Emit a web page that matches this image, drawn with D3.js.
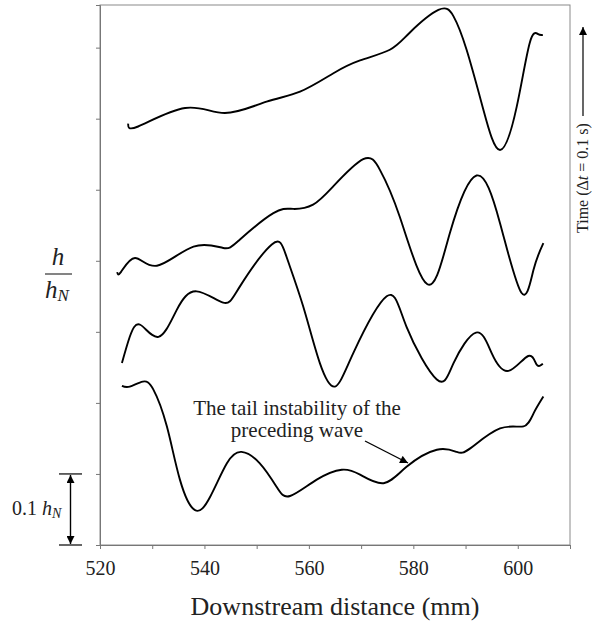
<!DOCTYPE html>
<html lang="en">
<head>
    <meta charset="UTF-8">
    <title>Wave profiles</title>
    <script src="https://cdn.jsdelivr.net/npm/d3@7"></script>
    <style>
        body{
            margin:0;
            background-color:#fff;
        }
        text{
            font-family:"Liberation Serif","Times New Roman","DejaVu Serif",serif;
            fill:#222;
        }
    </style>
</head>
<body>

<script type="text/javascript">

    // downstream distance (mm) and h/h_N (offset curves), oldest at the bottom
    var dist1 = [525.4, 527.3, 536.3, 543.9, 551.9, 558.3, 564.7, 569.8, 575.5, 579.3, 584.8, 587.7, 590.2, 593.4, 596.6, 599.8, 602.3, 603.9, 604.8];
    var h1    = [0.593, 0.589, 0.615, 0.608, 0.624, 0.638, 0.664, 0.682, 0.697, 0.721, 0.753, 0.744, 0.697, 0.613, 0.556, 0.617, 0.707, 0.719, 0.718];

    var dist2 = [523.3, 524.0, 526.7, 530.9, 537.9, 543.6, 546.8, 553.2, 557.0, 560.8, 564.7, 570.4, 573.6, 577.4, 582.7, 587.0, 592.1, 596.6, 600.7, 603.0, 604.9];
    var h2    = [0.384, 0.384, 0.404, 0.393, 0.420, 0.418, 0.430, 0.467, 0.473, 0.479, 0.505, 0.543, 0.528, 0.462, 0.367, 0.439, 0.520, 0.453, 0.355, 0.387, 0.425];

    var dist3 = [524.2, 525.7, 527.7, 531.2, 534.7, 538.5, 543.6, 546.8, 552.9, 555.7, 558.9, 562.1, 565.0, 568.5, 574.9, 578.7, 584.5, 587.7, 592.0, 595.0, 598.2, 602.0, 603.6, 604.8];
    var h3    = [0.256, 0.293, 0.310, 0.293, 0.331, 0.357, 0.341, 0.364, 0.423, 0.406, 0.336, 0.256, 0.223, 0.270, 0.350, 0.307, 0.233, 0.256, 0.299, 0.270, 0.245, 0.266, 0.254, 0.255];

    var dist4 = [524.2, 525.7, 528.2, 530.2, 532.8, 535.3, 538.2, 541.1, 544.3, 547.1, 550.6, 553.8, 556.4, 561.5, 566.3, 569.8, 574.3, 578.7, 584.5, 588.3, 590.9, 596.6, 601.1, 603.0, 604.9];
    var h4    = [0.224, 0.223, 0.230, 0.219, 0.167, 0.092, 0.049, 0.068, 0.115, 0.131, 0.115, 0.082, 0.069, 0.092, 0.106, 0.099, 0.087, 0.110, 0.134, 0.131, 0.136, 0.164, 0.167, 0.185, 0.209];

    var xTicks = [520, 530, 540, 550, 560, 570, 580, 590, 600, 610];
    var xLabels = [520, 540, 560, 580, 600];
    var yTicks = [0, 0.1, 0.2, 0.3, 0.4, 0.5, 0.6, 0.7];

    var w = 592;
    var h = 624;

    var xScale = d3.scaleLinear()
                    .domain([520, 610])
                    .range([100, 570]);

    var yScale = d3.scaleLinear()
                    .domain([0, 0.76])
                    .range([545, 5]);

    var svg = d3.select("body")
                .append("svg")
                .attr("width", w)
                .attr("height", h);

    // frame
    svg.append("rect")
       .attr("x", xScale(520))
       .attr("y", yScale(0.76))
       .attr("width", xScale(610) - xScale(520))
       .attr("height", yScale(0) - yScale(0.76))
       .attr("fill", "none")
       .attr("stroke", "#8a8a8a")
       .attr("stroke-width", 1);

    // x axis
    var xAxis = svg.append("g")
       .attr("transform", "translate(0," + yScale(0) + ")")
       .call(d3.axisBottom(xScale)
               .tickValues(xTicks)
               .tickSize(4)
               .tickPadding(12)
               .tickFormat(function(d){
                   return xLabels.indexOf(d) >= 0 ? d : "";
               }));
    xAxis.select(".domain").attr("stroke", "#777");
    xAxis.selectAll(".tick line").attr("stroke", "#777");
    xAxis.selectAll("text")
         .attr("font-size", "20px")
         .attr("fill", "#222");

    // y axis
    var yAxis = svg.append("g")
       .attr("transform", "translate(" + xScale(520) + ",0)")
       .call(d3.axisLeft(yScale)
               .tickValues(yTicks)
               .tickSize(4)
               .tickFormat(""));
    yAxis.select(".domain").attr("stroke", "#777");
    yAxis.selectAll(".tick line").attr("stroke", "#777");

    // curves
    var curves = [[dist1, h1], [dist2, h2], [dist3, h3], [dist4, h4]];

    var line = d3.line()
                 .x(function(d){ return xScale(d[0]); })
                 .y(function(d){ return yScale(d[1]); })
                 .curve(d3.curveNatural);

    svg.selectAll("path.wave")
       .data(curves)
       .enter()
       .append("path")
       .classed("wave", true)
       .attr("d", function(c){
           return line(d3.zip(c[0], c[1]));
       })
       .attr("fill", "none")
       .attr("stroke", "#000")
       .attr("stroke-width", 1.9);

    // arrow markers
    var defs = svg.append("defs");
    defs.append("marker")
        .attr("id", "head")
        .attr("viewBox", "0 0 10 10")
        .attr("refX", 10)
        .attr("refY", 5)
        .attr("markerWidth", 9)
        .attr("markerHeight", 8)
        .attr("markerUnits", "userSpaceOnUse")
        .attr("orient", "auto-start-reverse")
        .append("path")
        .attr("d", "M0,0 L10,5 L0,10 Z")
        .attr("fill", "#000");

    // x title
    svg.append("text")
       .attr("x", 335)
       .attr("y", 615)
       .attr("text-anchor", "middle")
       .attr("font-size", "26px")
       .text("Downstream distance (mm)");

    // y title h / h_N
    svg.append("text")
       .attr("x", 58)
       .attr("y", 265)
       .attr("text-anchor", "middle")
       .attr("font-size", "25px")
       .attr("font-style", "italic")
       .text("h");
    svg.append("line")
       .attr("x1", 45).attr("x2", 72)
       .attr("y1", 274).attr("y2", 274)
       .attr("stroke", "#333")
       .attr("stroke-width", 1.2);
    var hn = svg.append("text")
       .attr("x", 45)
       .attr("y", 298)
       .attr("font-size", "25px")
       .attr("font-style", "italic");
    hn.append("tspan").text("h");
    hn.append("tspan").attr("font-size", "17px").attr("dy", 3).text("N");

    // right title (time)
    var rt = svg.append("text")
       .attr("transform", "translate(588,233) rotate(-90)")
       .attr("font-size", "16px");
    rt.append("tspan").text("Time (\u0394");
    rt.append("tspan").attr("font-style", "italic").text("t");
    rt.append("tspan").text(" = 0.1 s)");
    svg.append("line")
       .attr("x1", 583).attr("x2", 583)
       .attr("y1", 116).attr("y2", 27)
       .attr("stroke", "#000")
       .attr("stroke-width", 1.2)
       .attr("marker-end", "url(#head)");

    // scale bar 0.1 h_N
    [0, 0.1].forEach(function(v){
        svg.append("line")
           .attr("x1", 59).attr("x2", 82)
           .attr("y1", yScale(v)).attr("y2", yScale(v))
           .attr("stroke", "#000")
           .attr("stroke-width", 1.2);
    });
    svg.append("line")
       .attr("x1", 70.5).attr("x2", 70.5)
       .attr("y1", yScale(0) - 1).attr("y2", yScale(0.1) + 1)
       .attr("stroke", "#000")
       .attr("stroke-width", 1.4)
       .attr("marker-start", "url(#head)")
       .attr("marker-end", "url(#head)");
    var sb = svg.append("text")
       .attr("x", 12)
       .attr("y", 515)
       .attr("font-size", "20px");
    sb.append("tspan").text("0.1 ");
    sb.append("tspan").attr("font-style", "italic").text("h");
    sb.append("tspan").attr("font-style", "italic").attr("font-size", "14px").attr("dy", 3).text("N");

    // annotation
    svg.append("text")
       .attr("x", 297)
       .attr("y", 415)
       .attr("text-anchor", "middle")
       .attr("font-size", "21px")
       .text("The tail instability of the");
    svg.append("text")
       .attr("x", 297)
       .attr("y", 437)
       .attr("text-anchor", "middle")
       .attr("font-size", "21px")
       .text("preceding wave");
    svg.append("line")
       .attr("x1", 365).attr("x2", 408)
       .attr("y1", 441).attr("y2", 463)
       .attr("stroke", "#000")
       .attr("stroke-width", 1.4)
       .attr("marker-end", "url(#head)");

</script>

</body>
</html>
